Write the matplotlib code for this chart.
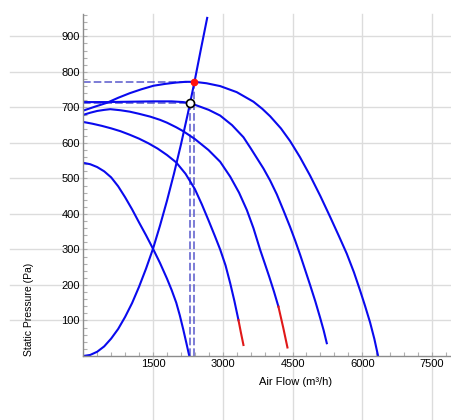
import matplotlib
matplotlib.use('Agg')
import matplotlib.pyplot as plt
from matplotlib.ticker import MultipleLocator

plt.rcParams['font.family'] = ['Liberation Sans', 'DejaVu Sans']

# axis ticks
x_ticks = [1500, 3000, 4500, 6000, 7500]
y_ticks = [100, 200, 300, 400, 500, 600, 700, 800, 900]

# system curve
sys_x = [0, 150, 300, 450, 600, 750, 900, 1050, 1200, 1350, 1500, 1650, 1800, 1950, 2100, 2250, 2392, 2530, 2665]
sys_y = [0, 3, 12, 27, 49, 76, 110, 149, 195, 246, 302, 367, 437, 513, 595, 683, 772, 864, 952]

# fan curves, highest to lowest
fan_a_x = [0, 250, 509, 750, 1000, 1250, 1511, 1750, 2000, 2200, 2392, 2650, 2944, 3300, 3660, 3850, 4019,
           4250, 4449, 4660, 4878, 5100, 5308, 5500, 5667, 5820, 5952, 6060, 6167, 6260, 6340]
fan_a_y = [691, 702, 713, 727, 740, 751, 761, 766, 770, 772, 772, 768, 760, 743, 716, 696, 675,
           641, 605, 560, 508, 450, 392, 337, 288, 236, 185, 141, 95, 48, 0]

fan_b_x = [0, 500, 1000, 1500, 1900, 2150, 2300, 2514, 2700, 2944, 3200, 3445, 3600, 3875, 4019, 4163,
           4305, 4449, 4560, 4664, 4770, 4878, 4990, 5093, 5170, 5237]
fan_b_y = [715, 715, 716, 717, 717, 715, 712, 702, 693, 677, 650, 616, 585, 528, 494, 455,
           410, 363, 324, 285, 243, 200, 154, 108, 72, 36]

fan_c_x = [0, 150, 300, 450, 580, 800, 1000, 1200, 1440, 1650, 1800, 2000, 2150, 2400, 2693, 2944, 3160,
           3350, 3518, 3660, 3804, 3900, 4000, 4100, 4197]
fan_c_y = [679, 685, 690, 693, 695, 692, 688, 682, 674, 665, 657, 644, 633, 611, 580, 547, 505,
           460, 411, 360, 299, 262, 223, 182, 139]
fan_c_tail_x = [4197, 4300, 4391]
fan_c_tail_y = [139, 80, 24]

fan_d_x = [0, 200, 400, 600, 800, 1000, 1200, 1400, 1600, 1800, 2000, 2200, 2400, 2550, 2700, 2830, 2944,
           3060, 3160, 3250, 3338]
fan_d_y = [659, 654, 648, 641, 633, 623, 612, 599, 584, 566, 545, 513, 470, 427, 380, 338, 300,
           255, 205, 155, 101]
fan_d_tail_x = [3338, 3390, 3445]
fan_d_tail_y = [101, 66, 31]

fan_e_x = [0, 150, 300, 450, 600, 750, 900, 1050, 1200, 1350, 1500, 1650, 1800, 1900, 2000, 2075, 2150,
           2220, 2280]
fan_e_y = [544, 540, 532, 520, 503, 478, 447, 413, 376, 340, 302, 262, 218, 186, 150, 115, 75,
           35, 0]

# operating points
duty_x, duty_y = 2392, 772
work_x, work_y = 2300, 712

blue = '#0a0aee'
red = '#e01818'
dash_col = '#5858cc'
grid_col = '#dcdcdc'

fig = plt.figure(figsize=(4.51, 4.20), dpi=100)
ax = fig.add_axes([83.25 / 451, 64 / 420, 367.75 / 451, 342 / 420])
ax.set_xlim(0, 7908)
ax.set_ylim(0, 963)

# grid reaching past the axes like in the original
for x in x_ticks:
    ax.plot([x, x], [-180, 963], color=grid_col, lw=1.0, clip_on=False, zorder=0)
for y in y_ticks:
    ax.plot([-1575, 7908], [y, y], color=grid_col, lw=1.0, clip_on=False, zorder=0)

# guide lines
ax.plot([0, duty_x], [duty_y, duty_y], color=dash_col, lw=1.1, ls=(0, (5, 2)), zorder=1)
ax.plot([duty_x, duty_x], [0, duty_y], color=dash_col, lw=1.1, ls=(0, (5, 2)), zorder=1)
ax.plot([0, work_x], [work_y, work_y], color=dash_col, lw=1.1, ls=(0, (5, 2)), zorder=1)
ax.plot([work_x, work_x], [0, work_y], color=dash_col, lw=1.1, ls=(0, (5, 2)), zorder=1)

lw = 1.5
ax.plot(sys_x, sys_y, color=blue, lw=lw, zorder=2)
ax.plot(fan_a_x, fan_a_y, color=blue, lw=lw, zorder=2)
ax.plot(fan_b_x, fan_b_y, color=blue, lw=lw, zorder=2)
ax.plot(fan_c_x, fan_c_y, color=blue, lw=lw, zorder=2)
ax.plot(fan_c_tail_x, fan_c_tail_y, color=red, lw=lw, zorder=2)
ax.plot(fan_d_x, fan_d_y, color=blue, lw=lw, zorder=2)
ax.plot(fan_d_tail_x, fan_d_tail_y, color=red, lw=lw, zorder=2)
ax.plot(fan_e_x, fan_e_y, color=blue, lw=lw, zorder=2)

ax.plot([duty_x], [duty_y], 'o', color='#ff1010', ms=4.5, mec='#ff1010', zorder=4)
ax.plot([work_x], [work_y], 'o', mfc='white', mec='black', ms=5.8, mew=1.2, zorder=4)

for s in ['top', 'right']:
    ax.spines[s].set_visible(False)
for s in ['left', 'bottom']:
    ax.spines[s].set_color('#8c8c8c')
    ax.spines[s].set_linewidth(1.0)

ax.set_xticks(x_ticks)
ax.set_yticks(y_ticks)
ax.xaxis.set_minor_locator(MultipleLocator(300))
ax.yaxis.set_minor_locator(MultipleLocator(20))
ax.tick_params(which='both', direction='in', length=3, color='#b0b0b0', width=0.8)
ax.tick_params(axis='both', labelsize=8, pad=2.5)

ax.set_xlabel('Air Flow (m³/h)', fontsize=8)
ax.xaxis.set_label_coords(0.576, -0.076)
ax.xaxis.label.set_va('center')
ax.set_ylabel('Static Pressure (Pa)', fontsize=7.5, loc='bottom')
ax.yaxis.set_label_coords(-0.1475, 0)
ax.yaxis.label.set_va('center')

fig.savefig('out.png', dpi=100)
